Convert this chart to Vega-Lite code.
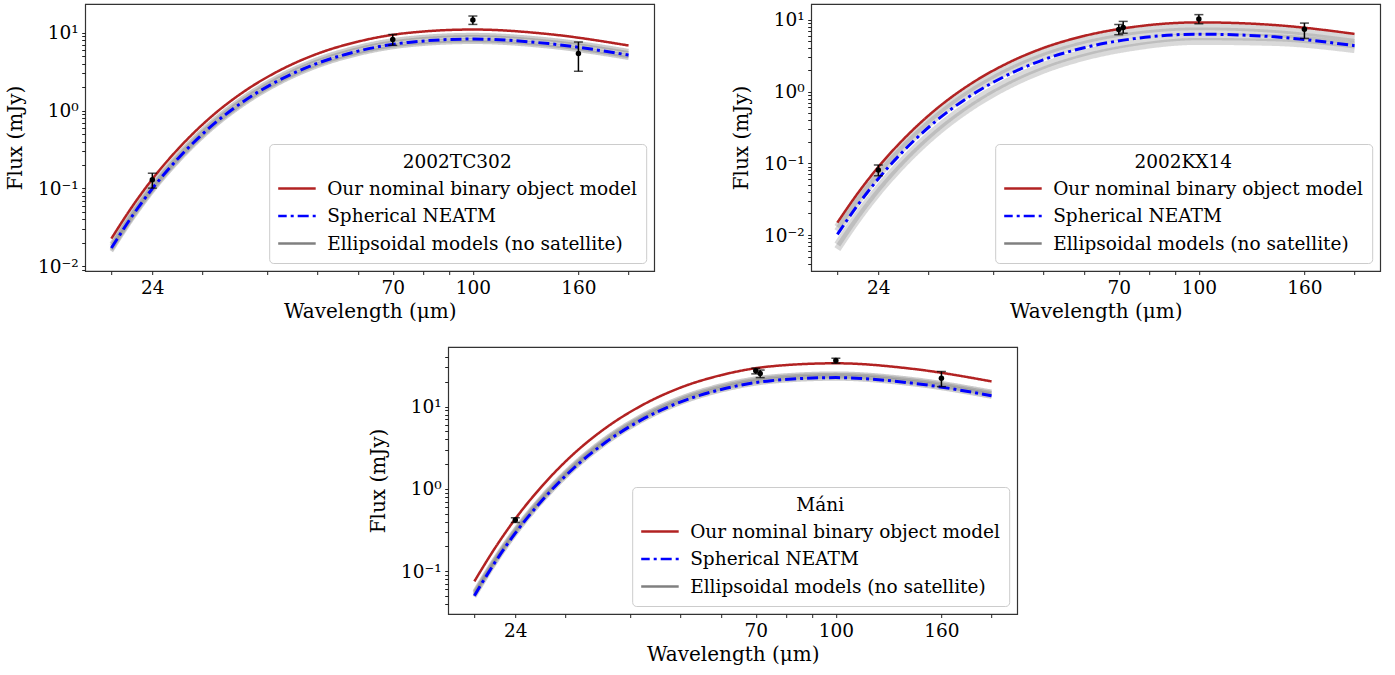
{
"$schema": "https://vega.github.io/schema/vega-lite/v6.json",
"padding": {"left": 4, "top": 3, "right": 10, "bottom": 5},
"background": "white",
"config": {
  "font": "DejaVu Serif",
  "view": {"stroke": "#333333", "strokeWidth": 1.2},
  "axis": {"grid": false, "domain": false, "tickColor": "#222222", "tickSize": 3.5, "labelFont": "DejaVu Serif", "labelFontSize": 18.5, "labelColor": "black", "labelPadding": 3.5, "titleFont": "DejaVu Serif", "titleFontSize": 20, "titleFontWeight": "normal", "titleColor": "black"},
  "axisY": {"minExtent": 48, "maxExtent": 48, "titlePadding": 12, "labelOverlap": false},
  "axisX": {"titlePadding": 5, "labelOverlap": false},
  "legend": {"orient": "bottom-right", "offset": 8, "fillColor": "rgba(255,255,255,0.85)", "strokeColor": "#cccccc", "cornerRadius": 4, "padding": 9, "titleFont": "DejaVu Serif", "titleFontSize": 18.5, "titleFontWeight": "normal", "titleColor": "black", "titleAnchor": "middle", "titlePadding": 7, "labelFont": "DejaVu Serif", "labelFontSize": 18.5, "labelColor": "black", "symbolType": "M-2,0L2,0", "symbolSize": 400, "symbolOffset": 6, "symbolStrokeWidth": 2.5, "symbolOpacity": 1, "clipHeight": 20, "rowPadding": 7.5, "labelOffset": 20, "labelLimit": 400}
},
"datasets": {
"obs": [
{"p":"TC","wl":24,"f":0.129,"lo":0.101,"hi":0.157},
{"p":"TC","wl":70,"f":8.2,"lo":6.9,"hi":9.5},
{"p":"TC","wl":100,"f":14.6,"lo":12.8,"hi":16.4},
{"p":"TC","wl":160,"f":5.42,"lo":3.2,"hi":7.6},
{"p":"KX","wl":24,"f":0.0807,"lo":0.0671,"hi":0.0948},
{"p":"KX","wl":70,"f":7.3,"lo":6.2,"hi":8.6},
{"p":"KX","wl":71.4,"f":7.8,"lo":6.5,"hi":9.5},
{"p":"KX","wl":100,"f":10.3,"lo":8.8,"hi":11.8},
{"p":"KX","wl":160,"f":7.4,"lo":5.5,"hi":9.0},
{"p":"MA","wl":24,"f":0.418,"lo":0.391,"hi":0.446},
{"p":"MA","wl":70,"f":27.2,"lo":25.0,"hi":29.3},
{"p":"MA","wl":71.4,"f":25.2,"lo":22.5,"hi":27.8},
{"p":"MA","wl":100,"f":36.3,"lo":33.6,"hi":38.7},
{"p":"MA","wl":160,"f":22.1,"lo":17.5,"hi":26.7}
],
"curves": [
{"p":"TC","s":"Our nominal binary object model","c":"r","wl":20,"f":0.02274},
{"p":"TC","s":"Our nominal binary object model","c":"r","wl":22,"f":0.06005},
{"p":"TC","s":"Our nominal binary object model","c":"r","wl":24,"f":0.1319},
{"p":"TC","s":"Our nominal binary object model","c":"r","wl":27,"f":0.3291},
{"p":"TC","s":"Our nominal binary object model","c":"r","wl":31,"f":0.8052},
{"p":"TC","s":"Our nominal binary object model","c":"r","wl":36,"f":1.7365},
{"p":"TC","s":"Our nominal binary object model","c":"r","wl":42,"f":3.2044},
{"p":"TC","s":"Our nominal binary object model","c":"r","wl":50,"f":5.36},
{"p":"TC","s":"Our nominal binary object model","c":"r","wl":60,"f":7.696},
{"p":"TC","s":"Our nominal binary object model","c":"r","wl":75,"f":9.964},
{"p":"TC","s":"Our nominal binary object model","c":"r","wl":100,"f":11.0},
{"p":"TC","s":"Our nominal binary object model","c":"r","wl":140,"f":9.614},
{"p":"TC","s":"Our nominal binary object model","c":"r","wl":200,"f":6.859},
{"p":"TC","s":"Spherical NEATM","c":"b","wl":20,"f":0.01716},
{"p":"TC","s":"Spherical NEATM","c":"b","wl":22,"f":0.04531},
{"p":"TC","s":"Spherical NEATM","c":"b","wl":24,"f":0.09954},
{"p":"TC","s":"Spherical NEATM","c":"b","wl":27,"f":0.2484},
{"p":"TC","s":"Spherical NEATM","c":"b","wl":31,"f":0.6076},
{"p":"TC","s":"Spherical NEATM","c":"b","wl":36,"f":1.3102},
{"p":"TC","s":"Spherical NEATM","c":"b","wl":42,"f":2.4179},
{"p":"TC","s":"Spherical NEATM","c":"b","wl":50,"f":4.0443},
{"p":"TC","s":"Spherical NEATM","c":"b","wl":60,"f":5.807},
{"p":"TC","s":"Spherical NEATM","c":"b","wl":75,"f":7.519},
{"p":"TC","s":"Spherical NEATM","c":"b","wl":100,"f":8.3},
{"p":"TC","s":"Spherical NEATM","c":"b","wl":140,"f":7.254},
{"p":"TC","s":"Spherical NEATM","c":"b","wl":200,"f":5.175},
{"p":"TC","s":"Ellipsoidal models (no satellite)","c":"g1","wl":20,"f":0.01571},
{"p":"TC","s":"Ellipsoidal models (no satellite)","c":"g1","wl":22,"f":0.04149},
{"p":"TC","s":"Ellipsoidal models (no satellite)","c":"g1","wl":24,"f":0.09115},
{"p":"TC","s":"Ellipsoidal models (no satellite)","c":"g1","wl":27,"f":0.2274},
{"p":"TC","s":"Ellipsoidal models (no satellite)","c":"g1","wl":31,"f":0.5563},
{"p":"TC","s":"Ellipsoidal models (no satellite)","c":"g1","wl":36,"f":1.1997},
{"p":"TC","s":"Ellipsoidal models (no satellite)","c":"g1","wl":42,"f":2.214},
{"p":"TC","s":"Ellipsoidal models (no satellite)","c":"g1","wl":50,"f":3.7033},
{"p":"TC","s":"Ellipsoidal models (no satellite)","c":"g1","wl":60,"f":5.317},
{"p":"TC","s":"Ellipsoidal models (no satellite)","c":"g1","wl":75,"f":6.884},
{"p":"TC","s":"Ellipsoidal models (no satellite)","c":"g1","wl":100,"f":7.6},
{"p":"TC","s":"Ellipsoidal models (no satellite)","c":"g1","wl":140,"f":6.642},
{"p":"TC","s":"Ellipsoidal models (no satellite)","c":"g1","wl":200,"f":4.739},
{"p":"TC","s":"Ellipsoidal models (no satellite)","c":"g2","wl":20,"f":0.01654},
{"p":"TC","s":"Ellipsoidal models (no satellite)","c":"g2","wl":22,"f":0.04367},
{"p":"TC","s":"Ellipsoidal models (no satellite)","c":"g2","wl":24,"f":0.09594},
{"p":"TC","s":"Ellipsoidal models (no satellite)","c":"g2","wl":27,"f":0.2394},
{"p":"TC","s":"Ellipsoidal models (no satellite)","c":"g2","wl":31,"f":0.5856},
{"p":"TC","s":"Ellipsoidal models (no satellite)","c":"g2","wl":36,"f":1.2629},
{"p":"TC","s":"Ellipsoidal models (no satellite)","c":"g2","wl":42,"f":2.3305},
{"p":"TC","s":"Ellipsoidal models (no satellite)","c":"g2","wl":50,"f":3.8982},
{"p":"TC","s":"Ellipsoidal models (no satellite)","c":"g2","wl":60,"f":5.597},
{"p":"TC","s":"Ellipsoidal models (no satellite)","c":"g2","wl":75,"f":7.247},
{"p":"TC","s":"Ellipsoidal models (no satellite)","c":"g2","wl":100,"f":8.0},
{"p":"TC","s":"Ellipsoidal models (no satellite)","c":"g2","wl":140,"f":6.992},
{"p":"TC","s":"Ellipsoidal models (no satellite)","c":"g2","wl":200,"f":4.988},
{"p":"TC","s":"Ellipsoidal models (no satellite)","c":"g3","wl":20,"f":0.01819},
{"p":"TC","s":"Ellipsoidal models (no satellite)","c":"g3","wl":22,"f":0.04804},
{"p":"TC","s":"Ellipsoidal models (no satellite)","c":"g3","wl":24,"f":0.10554},
{"p":"TC","s":"Ellipsoidal models (no satellite)","c":"g3","wl":27,"f":0.2633},
{"p":"TC","s":"Ellipsoidal models (no satellite)","c":"g3","wl":31,"f":0.6442},
{"p":"TC","s":"Ellipsoidal models (no satellite)","c":"g3","wl":36,"f":1.3892},
{"p":"TC","s":"Ellipsoidal models (no satellite)","c":"g3","wl":42,"f":2.5635},
{"p":"TC","s":"Ellipsoidal models (no satellite)","c":"g3","wl":50,"f":4.288},
{"p":"TC","s":"Ellipsoidal models (no satellite)","c":"g3","wl":60,"f":6.157},
{"p":"TC","s":"Ellipsoidal models (no satellite)","c":"g3","wl":75,"f":7.971},
{"p":"TC","s":"Ellipsoidal models (no satellite)","c":"g3","wl":100,"f":8.8},
{"p":"TC","s":"Ellipsoidal models (no satellite)","c":"g3","wl":140,"f":7.691},
{"p":"TC","s":"Ellipsoidal models (no satellite)","c":"g3","wl":200,"f":5.487},
{"p":"TC","s":"Ellipsoidal models (no satellite)","c":"g4","wl":20,"f":0.01943},
{"p":"TC","s":"Ellipsoidal models (no satellite)","c":"g4","wl":22,"f":0.05131},
{"p":"TC","s":"Ellipsoidal models (no satellite)","c":"g4","wl":24,"f":0.11273},
{"p":"TC","s":"Ellipsoidal models (no satellite)","c":"g4","wl":27,"f":0.2813},
{"p":"TC","s":"Ellipsoidal models (no satellite)","c":"g4","wl":31,"f":0.6881},
{"p":"TC","s":"Ellipsoidal models (no satellite)","c":"g4","wl":36,"f":1.4839},
{"p":"TC","s":"Ellipsoidal models (no satellite)","c":"g4","wl":42,"f":2.7383},
{"p":"TC","s":"Ellipsoidal models (no satellite)","c":"g4","wl":50,"f":4.5803},
{"p":"TC","s":"Ellipsoidal models (no satellite)","c":"g4","wl":60,"f":6.577},
{"p":"TC","s":"Ellipsoidal models (no satellite)","c":"g4","wl":75,"f":8.515},
{"p":"TC","s":"Ellipsoidal models (no satellite)","c":"g4","wl":100,"f":9.4},
{"p":"TC","s":"Ellipsoidal models (no satellite)","c":"g4","wl":140,"f":8.215},
{"p":"TC","s":"Ellipsoidal models (no satellite)","c":"g4","wl":200,"f":5.861},
{"p":"KX","s":"Our nominal binary object model","c":"r","wl":20,"f":0.01494},
{"p":"KX","s":"Our nominal binary object model","c":"r","wl":22,"f":0.04002},
{"p":"KX","s":"Our nominal binary object model","c":"r","wl":24,"f":0.08907},
{"p":"KX","s":"Our nominal binary object model","c":"r","wl":27,"f":0.2262},
{"p":"KX","s":"Our nominal binary object model","c":"r","wl":31,"f":0.5649},
{"p":"KX","s":"Our nominal binary object model","c":"r","wl":36,"f":1.246},
{"p":"KX","s":"Our nominal binary object model","c":"r","wl":42,"f":2.3531},
{"p":"KX","s":"Our nominal binary object model","c":"r","wl":50,"f":4.04},
{"p":"KX","s":"Our nominal binary object model","c":"r","wl":60,"f":5.962},
{"p":"KX","s":"Our nominal binary object model","c":"r","wl":75,"f":7.981},
{"p":"KX","s":"Our nominal binary object model","c":"r","wl":100,"f":9.2},
{"p":"KX","s":"Our nominal binary object model","c":"r","wl":140,"f":8.457},
{"p":"KX","s":"Our nominal binary object model","c":"r","wl":200,"f":6.365},
{"p":"KX","s":"Spherical NEATM","c":"b","wl":20,"f":0.01023},
{"p":"KX","s":"Spherical NEATM","c":"b","wl":22,"f":0.0274},
{"p":"KX","s":"Spherical NEATM","c":"b","wl":24,"f":0.061},
{"p":"KX","s":"Spherical NEATM","c":"b","wl":27,"f":0.1549},
{"p":"KX","s":"Spherical NEATM","c":"b","wl":31,"f":0.3869},
{"p":"KX","s":"Spherical NEATM","c":"b","wl":36,"f":0.8532},
{"p":"KX","s":"Spherical NEATM","c":"b","wl":42,"f":1.6114},
{"p":"KX","s":"Spherical NEATM","c":"b","wl":50,"f":2.7665},
{"p":"KX","s":"Spherical NEATM","c":"b","wl":60,"f":4.0829},
{"p":"KX","s":"Spherical NEATM","c":"b","wl":75,"f":5.465},
{"p":"KX","s":"Spherical NEATM","c":"b","wl":100,"f":6.3},
{"p":"KX","s":"Spherical NEATM","c":"b","wl":140,"f":5.791},
{"p":"KX","s":"Spherical NEATM","c":"b","wl":200,"f":4.359},
{"p":"KX","s":"Ellipsoidal models (no satellite)","c":"g1","wl":20,"f":0.01299},
{"p":"KX","s":"Ellipsoidal models (no satellite)","c":"g1","wl":22,"f":0.0348},
{"p":"KX","s":"Ellipsoidal models (no satellite)","c":"g1","wl":24,"f":0.07746},
{"p":"KX","s":"Ellipsoidal models (no satellite)","c":"g1","wl":27,"f":0.1967},
{"p":"KX","s":"Ellipsoidal models (no satellite)","c":"g1","wl":31,"f":0.4913},
{"p":"KX","s":"Ellipsoidal models (no satellite)","c":"g1","wl":36,"f":1.0834},
{"p":"KX","s":"Ellipsoidal models (no satellite)","c":"g1","wl":42,"f":2.0462},
{"p":"KX","s":"Ellipsoidal models (no satellite)","c":"g1","wl":50,"f":3.513},
{"p":"KX","s":"Ellipsoidal models (no satellite)","c":"g1","wl":60,"f":5.185},
{"p":"KX","s":"Ellipsoidal models (no satellite)","c":"g1","wl":75,"f":6.94},
{"p":"KX","s":"Ellipsoidal models (no satellite)","c":"g1","wl":100,"f":8.0},
{"p":"KX","s":"Ellipsoidal models (no satellite)","c":"g1","wl":140,"f":7.354},
{"p":"KX","s":"Ellipsoidal models (no satellite)","c":"g1","wl":200,"f":5.535},
{"p":"KX","s":"Ellipsoidal models (no satellite)","c":"g2","wl":20,"f":0.01137},
{"p":"KX","s":"Ellipsoidal models (no satellite)","c":"g2","wl":22,"f":0.03045},
{"p":"KX","s":"Ellipsoidal models (no satellite)","c":"g2","wl":24,"f":0.06777},
{"p":"KX","s":"Ellipsoidal models (no satellite)","c":"g2","wl":27,"f":0.1721},
{"p":"KX","s":"Ellipsoidal models (no satellite)","c":"g2","wl":31,"f":0.4298},
{"p":"KX","s":"Ellipsoidal models (no satellite)","c":"g2","wl":36,"f":0.948},
{"p":"KX","s":"Ellipsoidal models (no satellite)","c":"g2","wl":42,"f":1.7904},
{"p":"KX","s":"Ellipsoidal models (no satellite)","c":"g2","wl":50,"f":3.0739},
{"p":"KX","s":"Ellipsoidal models (no satellite)","c":"g2","wl":60,"f":4.537},
{"p":"KX","s":"Ellipsoidal models (no satellite)","c":"g2","wl":75,"f":6.073},
{"p":"KX","s":"Ellipsoidal models (no satellite)","c":"g2","wl":100,"f":7.0},
{"p":"KX","s":"Ellipsoidal models (no satellite)","c":"g2","wl":140,"f":6.435},
{"p":"KX","s":"Ellipsoidal models (no satellite)","c":"g2","wl":200,"f":4.843},
{"p":"KX","s":"Ellipsoidal models (no satellite)","c":"g3","wl":20,"f":0.007397},
{"p":"KX","s":"Ellipsoidal models (no satellite)","c":"g3","wl":22,"f":0.0201},
{"p":"KX","s":"Ellipsoidal models (no satellite)","c":"g3","wl":24,"f":0.04533},
{"p":"KX","s":"Ellipsoidal models (no satellite)","c":"g3","wl":27,"f":0.1172},
{"p":"KX","s":"Ellipsoidal models (no satellite)","c":"g3","wl":31,"f":0.2988},
{"p":"KX","s":"Ellipsoidal models (no satellite)","c":"g3","wl":36,"f":0.6739},
{"p":"KX","s":"Ellipsoidal models (no satellite)","c":"g3","wl":42,"f":1.3025},
{"p":"KX","s":"Ellipsoidal models (no satellite)","c":"g3","wl":50,"f":2.2953},
{"p":"KX","s":"Ellipsoidal models (no satellite)","c":"g3","wl":60,"f":3.482},
{"p":"KX","s":"Ellipsoidal models (no satellite)","c":"g3","wl":75,"f":4.819},
{"p":"KX","s":"Ellipsoidal models (no satellite)","c":"g3","wl":100,"f":5.8},
{"p":"KX","s":"Ellipsoidal models (no satellite)","c":"g3","wl":140,"f":5.608},
{"p":"KX","s":"Ellipsoidal models (no satellite)","c":"g3","wl":200,"f":4.453},
{"p":"KX","s":"Ellipsoidal models (no satellite)","c":"g4","wl":20,"f":0.006377},
{"p":"KX","s":"Ellipsoidal models (no satellite)","c":"g4","wl":22,"f":0.01733},
{"p":"KX","s":"Ellipsoidal models (no satellite)","c":"g4","wl":24,"f":0.03908},
{"p":"KX","s":"Ellipsoidal models (no satellite)","c":"g4","wl":27,"f":0.101},
{"p":"KX","s":"Ellipsoidal models (no satellite)","c":"g4","wl":31,"f":0.2576},
{"p":"KX","s":"Ellipsoidal models (no satellite)","c":"g4","wl":36,"f":0.581},
{"p":"KX","s":"Ellipsoidal models (no satellite)","c":"g4","wl":42,"f":1.1229},
{"p":"KX","s":"Ellipsoidal models (no satellite)","c":"g4","wl":50,"f":1.9787},
{"p":"KX","s":"Ellipsoidal models (no satellite)","c":"g4","wl":60,"f":3.002},
{"p":"KX","s":"Ellipsoidal models (no satellite)","c":"g4","wl":75,"f":4.154},
{"p":"KX","s":"Ellipsoidal models (no satellite)","c":"g4","wl":100,"f":5.0},
{"p":"KX","s":"Ellipsoidal models (no satellite)","c":"g4","wl":140,"f":4.834},
{"p":"KX","s":"Ellipsoidal models (no satellite)","c":"g4","wl":200,"f":3.838},
{"p":"MA","s":"Our nominal binary object model","c":"r","wl":20,"f":0.07527},
{"p":"MA","s":"Our nominal binary object model","c":"r","wl":22,"f":0.1978},
{"p":"MA","s":"Our nominal binary object model","c":"r","wl":24,"f":0.4328},
{"p":"MA","s":"Our nominal binary object model","c":"r","wl":27,"f":1.0735},
{"p":"MA","s":"Our nominal binary object model","c":"r","wl":31,"f":2.6078},
{"p":"MA","s":"Our nominal binary object model","c":"r","wl":36,"f":5.582},
{"p":"MA","s":"Our nominal binary object model","c":"r","wl":42,"f":10.222},
{"p":"MA","s":"Our nominal binary object model","c":"r","wl":50,"f":16.95},
{"p":"MA","s":"Our nominal binary object model","c":"r","wl":60,"f":24.114},
{"p":"MA","s":"Our nominal binary object model","c":"r","wl":75,"f":30.878},
{"p":"MA","s":"Our nominal binary object model","c":"r","wl":100,"f":33.6},
{"p":"MA","s":"Our nominal binary object model","c":"r","wl":140,"f":28.875},
{"p":"MA","s":"Our nominal binary object model","c":"r","wl":200,"f":20.236},
{"p":"MA","s":"Spherical NEATM","c":"b","wl":20,"f":0.0504},
{"p":"MA","s":"Spherical NEATM","c":"b","wl":22,"f":0.1325},
{"p":"MA","s":"Spherical NEATM","c":"b","wl":24,"f":0.2898},
{"p":"MA","s":"Spherical NEATM","c":"b","wl":27,"f":0.7188},
{"p":"MA","s":"Spherical NEATM","c":"b","wl":31,"f":1.7463},
{"p":"MA","s":"Spherical NEATM","c":"b","wl":36,"f":3.7379},
{"p":"MA","s":"Spherical NEATM","c":"b","wl":42,"f":6.845},
{"p":"MA","s":"Spherical NEATM","c":"b","wl":50,"f":11.351},
{"p":"MA","s":"Spherical NEATM","c":"b","wl":60,"f":16.148},
{"p":"MA","s":"Spherical NEATM","c":"b","wl":75,"f":20.677},
{"p":"MA","s":"Spherical NEATM","c":"b","wl":100,"f":22.5},
{"p":"MA","s":"Spherical NEATM","c":"b","wl":140,"f":19.336},
{"p":"MA","s":"Spherical NEATM","c":"b","wl":200,"f":13.551},
{"p":"MA","s":"Ellipsoidal models (no satellite)","c":"g1","wl":20,"f":0.04884},
{"p":"MA","s":"Ellipsoidal models (no satellite)","c":"g1","wl":22,"f":0.1284},
{"p":"MA","s":"Ellipsoidal models (no satellite)","c":"g1","wl":24,"f":0.2808},
{"p":"MA","s":"Ellipsoidal models (no satellite)","c":"g1","wl":27,"f":0.6965},
{"p":"MA","s":"Ellipsoidal models (no satellite)","c":"g1","wl":31,"f":1.692},
{"p":"MA","s":"Ellipsoidal models (no satellite)","c":"g1","wl":36,"f":3.6216},
{"p":"MA","s":"Ellipsoidal models (no satellite)","c":"g1","wl":42,"f":6.632},
{"p":"MA","s":"Ellipsoidal models (no satellite)","c":"g1","wl":50,"f":10.997},
{"p":"MA","s":"Ellipsoidal models (no satellite)","c":"g1","wl":60,"f":15.646},
{"p":"MA","s":"Ellipsoidal models (no satellite)","c":"g1","wl":75,"f":20.034},
{"p":"MA","s":"Ellipsoidal models (no satellite)","c":"g1","wl":100,"f":21.8},
{"p":"MA","s":"Ellipsoidal models (no satellite)","c":"g1","wl":140,"f":18.734},
{"p":"MA","s":"Ellipsoidal models (no satellite)","c":"g1","wl":200,"f":13.129},
{"p":"MA","s":"Ellipsoidal models (no satellite)","c":"g2","wl":20,"f":0.05197},
{"p":"MA","s":"Ellipsoidal models (no satellite)","c":"g2","wl":22,"f":0.1366},
{"p":"MA","s":"Ellipsoidal models (no satellite)","c":"g2","wl":24,"f":0.2988},
{"p":"MA","s":"Ellipsoidal models (no satellite)","c":"g2","wl":27,"f":0.7412},
{"p":"MA","s":"Ellipsoidal models (no satellite)","c":"g2","wl":31,"f":1.8006},
{"p":"MA","s":"Ellipsoidal models (no satellite)","c":"g2","wl":36,"f":3.8542},
{"p":"MA","s":"Ellipsoidal models (no satellite)","c":"g2","wl":42,"f":7.058},
{"p":"MA","s":"Ellipsoidal models (no satellite)","c":"g2","wl":50,"f":11.704},
{"p":"MA","s":"Ellipsoidal models (no satellite)","c":"g2","wl":60,"f":16.65},
{"p":"MA","s":"Ellipsoidal models (no satellite)","c":"g2","wl":75,"f":21.321},
{"p":"MA","s":"Ellipsoidal models (no satellite)","c":"g2","wl":100,"f":23.2},
{"p":"MA","s":"Ellipsoidal models (no satellite)","c":"g2","wl":140,"f":19.937},
{"p":"MA","s":"Ellipsoidal models (no satellite)","c":"g2","wl":200,"f":13.972},
{"p":"MA","s":"Ellipsoidal models (no satellite)","c":"g3","wl":20,"f":0.05444},
{"p":"MA","s":"Ellipsoidal models (no satellite)","c":"g3","wl":22,"f":0.1431},
{"p":"MA","s":"Ellipsoidal models (no satellite)","c":"g3","wl":24,"f":0.313},
{"p":"MA","s":"Ellipsoidal models (no satellite)","c":"g3","wl":27,"f":0.7763},
{"p":"MA","s":"Ellipsoidal models (no satellite)","c":"g3","wl":31,"f":1.886},
{"p":"MA","s":"Ellipsoidal models (no satellite)","c":"g3","wl":36,"f":4.037},
{"p":"MA","s":"Ellipsoidal models (no satellite)","c":"g3","wl":42,"f":7.393},
{"p":"MA","s":"Ellipsoidal models (no satellite)","c":"g3","wl":50,"f":12.259},
{"p":"MA","s":"Ellipsoidal models (no satellite)","c":"g3","wl":60,"f":17.44},
{"p":"MA","s":"Ellipsoidal models (no satellite)","c":"g3","wl":75,"f":22.331},
{"p":"MA","s":"Ellipsoidal models (no satellite)","c":"g3","wl":100,"f":24.3},
{"p":"MA","s":"Ellipsoidal models (no satellite)","c":"g3","wl":140,"f":20.883},
{"p":"MA","s":"Ellipsoidal models (no satellite)","c":"g3","wl":200,"f":14.635},
{"p":"MA","s":"Ellipsoidal models (no satellite)","c":"g4","wl":20,"f":0.05668},
{"p":"MA","s":"Ellipsoidal models (no satellite)","c":"g4","wl":22,"f":0.149},
{"p":"MA","s":"Ellipsoidal models (no satellite)","c":"g4","wl":24,"f":0.3259},
{"p":"MA","s":"Ellipsoidal models (no satellite)","c":"g4","wl":27,"f":0.8083},
{"p":"MA","s":"Ellipsoidal models (no satellite)","c":"g4","wl":31,"f":1.9636},
{"p":"MA","s":"Ellipsoidal models (no satellite)","c":"g4","wl":36,"f":4.2031},
{"p":"MA","s":"Ellipsoidal models (no satellite)","c":"g4","wl":42,"f":7.697},
{"p":"MA","s":"Ellipsoidal models (no satellite)","c":"g4","wl":50,"f":12.763},
{"p":"MA","s":"Ellipsoidal models (no satellite)","c":"g4","wl":60,"f":18.158},
{"p":"MA","s":"Ellipsoidal models (no satellite)","c":"g4","wl":75,"f":23.25},
{"p":"MA","s":"Ellipsoidal models (no satellite)","c":"g4","wl":100,"f":25.3},
{"p":"MA","s":"Ellipsoidal models (no satellite)","c":"g4","wl":140,"f":21.742},
{"p":"MA","s":"Ellipsoidal models (no satellite)","c":"g4","wl":200,"f":15.237}
]
},
"spacing": 23,
"center": true,
"resolve": {"scale": {"x": "independent", "y": "independent", "color": "independent", "strokeDash": "independent"}, "legend": {"color": "independent", "strokeDash": "independent"}, "axis": {"x": "independent", "y": "independent"}},
"vconcat": [
{
"spacing": 75,
"resolve": {"scale": {"x": "independent", "y": "independent", "color": "independent", "strokeDash": "independent"}, "legend": {"color": "independent", "strokeDash": "independent"}, "axis": {"x": "independent", "y": "independent"}},
"hconcat": [
{
"width": 569, "height": 267,
"layer": [
{"data": {"name": "curves"}, "transform": [{"filter": "datum.p == 'TC' && datum.s == 'Ellipsoidal models (no satellite)'"}],
 "mark": {"type": "line", "interpolate": "monotone", "strokeWidth": 4, "strokeOpacity": 0.4},
 "encoding": {
  "x": {"field": "wl", "type": "quantitative", "scale": {"type": "log", "domain": [17.8, 224.2], "nice": false}, "axis": {"values": [20,24,30,40,50,60,70,80,90,100,160,200], "labelExpr": "indexof([24,70,100,160], datum.value) >= 0 ? '' + datum.value : ''", "title": "Wavelength (μm)"}},
  "y": {"field": "f", "type": "quantitative", "scale": {"type": "log", "domain": [0.00871, 23.4], "nice": false}, "axis": {"values": [0.009,0.01,0.02,0.03,0.04,0.05,0.06,0.07,0.08,0.09,0.1,0.2,0.3,0.4,0.5,0.6,0.7,0.8,0.9,1,2,3,4,5,6,7,8,9,10], "labelExpr": "datum.value == 10 ? '10¹' : datum.value == 1 ? '10⁰' : datum.value == 0.1 ? '10⁻¹' : datum.value == 0.01 ? '10⁻²' : ''", "title": "Flux (mJy)"}},
  "color": {"field": "s", "type": "nominal", "scale": {"domain": ["Our nominal binary object model", "Spherical NEATM", "Ellipsoidal models (no satellite)"], "range": ["#b22222", "#0000ff", "#808080"]}, "legend": {"title": "2002TC302"}},
  "strokeDash": {"field": "s", "type": "nominal", "scale": {"domain": ["Our nominal binary object model", "Spherical NEATM", "Ellipsoidal models (no satellite)"], "range": [[1,0],[11,4,3,4],[1,0]]}, "legend": {"title": "2002TC302"}},
  "detail": {"field": "c"}
 }},
{"data": {"name": "curves"}, "transform": [{"filter": "datum.p == 'TC' && datum.s == 'Spherical NEATM'"}],
 "mark": {"type": "line", "interpolate": "monotone", "strokeWidth": 3},
 "encoding": {
  "x": {"field": "wl", "type": "quantitative", "scale": {"type": "log", "domain": [17.8, 224.2], "nice": false}, "title": "Wavelength (μm)"},
  "y": {"field": "f", "type": "quantitative", "scale": {"type": "log", "domain": [0.00871, 23.4], "nice": false}, "title": "Flux (mJy)"},
  "color": {"field": "s", "type": "nominal", "scale": {"domain": ["Our nominal binary object model", "Spherical NEATM", "Ellipsoidal models (no satellite)"], "range": ["#b22222", "#0000ff", "#808080"]}, "legend": {"title": "2002TC302"}},
  "strokeDash": {"field": "s", "type": "nominal", "scale": {"domain": ["Our nominal binary object model", "Spherical NEATM", "Ellipsoidal models (no satellite)"], "range": [[1,0],[11,4,3,4],[1,0]]}, "legend": {"title": "2002TC302"}}
 }},
{"data": {"name": "curves"}, "transform": [{"filter": "datum.p == 'TC' && datum.s == 'Our nominal binary object model'"}],
 "mark": {"type": "line", "interpolate": "monotone", "strokeWidth": 2.5},
 "encoding": {
  "x": {"field": "wl", "type": "quantitative", "scale": {"type": "log", "domain": [17.8, 224.2], "nice": false}, "title": "Wavelength (μm)"},
  "y": {"field": "f", "type": "quantitative", "scale": {"type": "log", "domain": [0.00871, 23.4], "nice": false}, "title": "Flux (mJy)"},
  "color": {"field": "s", "type": "nominal", "scale": {"domain": ["Our nominal binary object model", "Spherical NEATM", "Ellipsoidal models (no satellite)"], "range": ["#b22222", "#0000ff", "#808080"]}, "legend": {"title": "2002TC302"}},
  "strokeDash": {"field": "s", "type": "nominal", "scale": {"domain": ["Our nominal binary object model", "Spherical NEATM", "Ellipsoidal models (no satellite)"], "range": [[1,0],[11,4,3,4],[1,0]]}, "legend": {"title": "2002TC302"}}
 }},
{"data": {"name": "obs"}, "transform": [{"filter": "datum.p == 'TC'"}],
 "mark": {"type": "errorbar", "ticks": true, "size": 9, "thickness": 1.5, "color": "black"},
 "encoding": {
  "x": {"field": "wl", "type": "quantitative", "scale": {"type": "log", "domain": [17.8, 224.2], "nice": false}, "title": "Wavelength (μm)"},
  "y": {"field": "lo", "type": "quantitative", "scale": {"type": "log", "domain": [0.00871, 23.4], "nice": false}, "title": "Flux (mJy)"},
  "y2": {"field": "hi"}
 }},
{"data": {"name": "obs"}, "transform": [{"filter": "datum.p == 'TC'"}],
 "mark": {"type": "point", "filled": true, "color": "black", "size": 30, "opacity": 1},
 "encoding": {
  "x": {"field": "wl", "type": "quantitative", "scale": {"type": "log", "domain": [17.8, 224.2], "nice": false}, "title": "Wavelength (μm)"},
  "y": {"field": "f", "type": "quantitative", "scale": {"type": "log", "domain": [0.00871, 23.4], "nice": false}, "title": "Flux (mJy)"}
 }}
]
},
{
"width": 569, "height": 267,
"layer": [
{"data": {"name": "curves"}, "transform": [{"filter": "datum.p == 'KX' && datum.s == 'Ellipsoidal models (no satellite)'"}],
 "mark": {"type": "line", "interpolate": "monotone", "strokeWidth": 7, "strokeOpacity": 0.3},
 "encoding": {
  "x": {"field": "wl", "type": "quantitative", "scale": {"type": "log", "domain": [17.8, 224.2], "nice": false}, "axis": {"values": [20,24,30,40,50,60,70,80,90,100,160,200], "labelExpr": "indexof([24,70,100,160], datum.value) >= 0 ? '' + datum.value : ''", "title": "Wavelength (μm)"}},
  "y": {"field": "f", "type": "quantitative", "scale": {"type": "log", "domain": [0.00316, 16.6], "nice": false}, "axis": {"values": [0.004,0.005,0.006,0.007,0.008,0.009,0.01,0.02,0.03,0.04,0.05,0.06,0.07,0.08,0.09,0.1,0.2,0.3,0.4,0.5,0.6,0.7,0.8,0.9,1,2,3,4,5,6,7,8,9,10], "labelExpr": "datum.value == 10 ? '10¹' : datum.value == 1 ? '10⁰' : datum.value == 0.1 ? '10⁻¹' : datum.value == 0.01 ? '10⁻²' : ''", "title": "Flux (mJy)"}},
  "color": {"field": "s", "type": "nominal", "scale": {"domain": ["Our nominal binary object model", "Spherical NEATM", "Ellipsoidal models (no satellite)"], "range": ["#b22222", "#0000ff", "#808080"]}, "legend": {"title": "2002KX14"}},
  "strokeDash": {"field": "s", "type": "nominal", "scale": {"domain": ["Our nominal binary object model", "Spherical NEATM", "Ellipsoidal models (no satellite)"], "range": [[1,0],[11,4,3,4],[1,0]]}, "legend": {"title": "2002KX14"}},
  "detail": {"field": "c"}
 }},
{"data": {"name": "curves"}, "transform": [{"filter": "datum.p == 'KX' && datum.s == 'Spherical NEATM'"}],
 "mark": {"type": "line", "interpolate": "monotone", "strokeWidth": 3},
 "encoding": {
  "x": {"field": "wl", "type": "quantitative", "scale": {"type": "log", "domain": [17.8, 224.2], "nice": false}, "title": "Wavelength (μm)"},
  "y": {"field": "f", "type": "quantitative", "scale": {"type": "log", "domain": [0.00316, 16.6], "nice": false}, "title": "Flux (mJy)"},
  "color": {"field": "s", "type": "nominal", "scale": {"domain": ["Our nominal binary object model", "Spherical NEATM", "Ellipsoidal models (no satellite)"], "range": ["#b22222", "#0000ff", "#808080"]}, "legend": {"title": "2002KX14"}},
  "strokeDash": {"field": "s", "type": "nominal", "scale": {"domain": ["Our nominal binary object model", "Spherical NEATM", "Ellipsoidal models (no satellite)"], "range": [[1,0],[11,4,3,4],[1,0]]}, "legend": {"title": "2002KX14"}}
 }},
{"data": {"name": "curves"}, "transform": [{"filter": "datum.p == 'KX' && datum.s == 'Our nominal binary object model'"}],
 "mark": {"type": "line", "interpolate": "monotone", "strokeWidth": 2.5},
 "encoding": {
  "x": {"field": "wl", "type": "quantitative", "scale": {"type": "log", "domain": [17.8, 224.2], "nice": false}, "title": "Wavelength (μm)"},
  "y": {"field": "f", "type": "quantitative", "scale": {"type": "log", "domain": [0.00316, 16.6], "nice": false}, "title": "Flux (mJy)"},
  "color": {"field": "s", "type": "nominal", "scale": {"domain": ["Our nominal binary object model", "Spherical NEATM", "Ellipsoidal models (no satellite)"], "range": ["#b22222", "#0000ff", "#808080"]}, "legend": {"title": "2002KX14"}},
  "strokeDash": {"field": "s", "type": "nominal", "scale": {"domain": ["Our nominal binary object model", "Spherical NEATM", "Ellipsoidal models (no satellite)"], "range": [[1,0],[11,4,3,4],[1,0]]}, "legend": {"title": "2002KX14"}}
 }},
{"data": {"name": "obs"}, "transform": [{"filter": "datum.p == 'KX'"}],
 "mark": {"type": "errorbar", "ticks": true, "size": 9, "thickness": 1.5, "color": "black"},
 "encoding": {
  "x": {"field": "wl", "type": "quantitative", "scale": {"type": "log", "domain": [17.8, 224.2], "nice": false}, "title": "Wavelength (μm)"},
  "y": {"field": "lo", "type": "quantitative", "scale": {"type": "log", "domain": [0.00316, 16.6], "nice": false}, "title": "Flux (mJy)"},
  "y2": {"field": "hi"}
 }},
{"data": {"name": "obs"}, "transform": [{"filter": "datum.p == 'KX'"}],
 "mark": {"type": "point", "filled": true, "color": "black", "size": 30, "opacity": 1},
 "encoding": {
  "x": {"field": "wl", "type": "quantitative", "scale": {"type": "log", "domain": [17.8, 224.2], "nice": false}, "title": "Wavelength (μm)"},
  "y": {"field": "f", "type": "quantitative", "scale": {"type": "log", "domain": [0.00316, 16.6], "nice": false}, "title": "Flux (mJy)"}
 }}
]
}
]
},
{
"width": 569, "height": 267,
"layer": [
{"data": {"name": "curves"}, "transform": [{"filter": "datum.p == 'MA' && datum.s == 'Ellipsoidal models (no satellite)'"}],
 "mark": {"type": "line", "interpolate": "monotone", "strokeWidth": 4, "strokeOpacity": 0.4},
 "encoding": {
  "x": {"field": "wl", "type": "quantitative", "scale": {"type": "log", "domain": [17.8, 224.2], "nice": false}, "axis": {"values": [20,24,30,40,50,60,70,80,90,100,160,200], "labelExpr": "indexof([24,70,100,160], datum.value) >= 0 ? '' + datum.value : ''", "title": "Wavelength (μm)"}},
  "y": {"field": "f", "type": "quantitative", "scale": {"type": "log", "domain": [0.0302, 53], "nice": false}, "axis": {"values": [0.04,0.05,0.06,0.07,0.08,0.09,0.1,0.2,0.3,0.4,0.5,0.6,0.7,0.8,0.9,1,2,3,4,5,6,7,8,9,10,20,30,40], "labelExpr": "datum.value == 10 ? '10¹' : datum.value == 1 ? '10⁰' : datum.value == 0.1 ? '10⁻¹' : datum.value == 0.01 ? '10⁻²' : ''", "title": "Flux (mJy)"}},
  "color": {"field": "s", "type": "nominal", "scale": {"domain": ["Our nominal binary object model", "Spherical NEATM", "Ellipsoidal models (no satellite)"], "range": ["#b22222", "#0000ff", "#808080"]}, "legend": {"title": "Máni"}},
  "strokeDash": {"field": "s", "type": "nominal", "scale": {"domain": ["Our nominal binary object model", "Spherical NEATM", "Ellipsoidal models (no satellite)"], "range": [[1,0],[11,4,3,4],[1,0]]}, "legend": {"title": "Máni"}},
  "detail": {"field": "c"}
 }},
{"data": {"name": "curves"}, "transform": [{"filter": "datum.p == 'MA' && datum.s == 'Spherical NEATM'"}],
 "mark": {"type": "line", "interpolate": "monotone", "strokeWidth": 3},
 "encoding": {
  "x": {"field": "wl", "type": "quantitative", "scale": {"type": "log", "domain": [17.8, 224.2], "nice": false}, "title": "Wavelength (μm)"},
  "y": {"field": "f", "type": "quantitative", "scale": {"type": "log", "domain": [0.0302, 53], "nice": false}, "title": "Flux (mJy)"},
  "color": {"field": "s", "type": "nominal", "scale": {"domain": ["Our nominal binary object model", "Spherical NEATM", "Ellipsoidal models (no satellite)"], "range": ["#b22222", "#0000ff", "#808080"]}, "legend": {"title": "Máni"}},
  "strokeDash": {"field": "s", "type": "nominal", "scale": {"domain": ["Our nominal binary object model", "Spherical NEATM", "Ellipsoidal models (no satellite)"], "range": [[1,0],[11,4,3,4],[1,0]]}, "legend": {"title": "Máni"}}
 }},
{"data": {"name": "curves"}, "transform": [{"filter": "datum.p == 'MA' && datum.s == 'Our nominal binary object model'"}],
 "mark": {"type": "line", "interpolate": "monotone", "strokeWidth": 2.5},
 "encoding": {
  "x": {"field": "wl", "type": "quantitative", "scale": {"type": "log", "domain": [17.8, 224.2], "nice": false}, "title": "Wavelength (μm)"},
  "y": {"field": "f", "type": "quantitative", "scale": {"type": "log", "domain": [0.0302, 53], "nice": false}, "title": "Flux (mJy)"},
  "color": {"field": "s", "type": "nominal", "scale": {"domain": ["Our nominal binary object model", "Spherical NEATM", "Ellipsoidal models (no satellite)"], "range": ["#b22222", "#0000ff", "#808080"]}, "legend": {"title": "Máni"}},
  "strokeDash": {"field": "s", "type": "nominal", "scale": {"domain": ["Our nominal binary object model", "Spherical NEATM", "Ellipsoidal models (no satellite)"], "range": [[1,0],[11,4,3,4],[1,0]]}, "legend": {"title": "Máni"}}
 }},
{"data": {"name": "obs"}, "transform": [{"filter": "datum.p == 'MA'"}],
 "mark": {"type": "errorbar", "ticks": true, "size": 9, "thickness": 1.5, "color": "black"},
 "encoding": {
  "x": {"field": "wl", "type": "quantitative", "scale": {"type": "log", "domain": [17.8, 224.2], "nice": false}, "title": "Wavelength (μm)"},
  "y": {"field": "lo", "type": "quantitative", "scale": {"type": "log", "domain": [0.0302, 53], "nice": false}, "title": "Flux (mJy)"},
  "y2": {"field": "hi"}
 }},
{"data": {"name": "obs"}, "transform": [{"filter": "datum.p == 'MA'"}],
 "mark": {"type": "point", "filled": true, "color": "black", "size": 30, "opacity": 1},
 "encoding": {
  "x": {"field": "wl", "type": "quantitative", "scale": {"type": "log", "domain": [17.8, 224.2], "nice": false}, "title": "Wavelength (μm)"},
  "y": {"field": "f", "type": "quantitative", "scale": {"type": "log", "domain": [0.0302, 53], "nice": false}, "title": "Flux (mJy)"}
 }}
]
}
]
}
